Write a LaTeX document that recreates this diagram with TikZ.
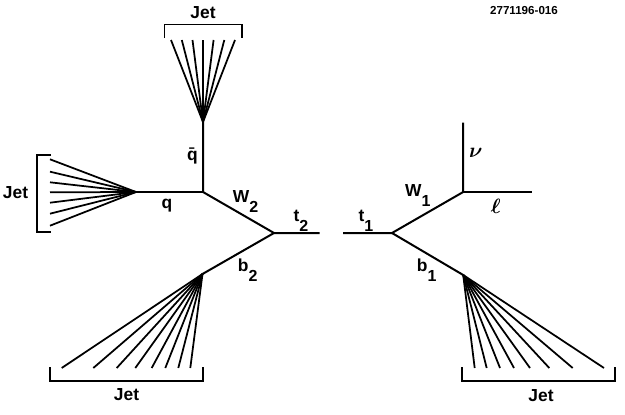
\documentclass[tikz,border=0pt]{standalone}
\usepackage{fontspec}
\setmainfont{Liberation Sans}[BoldFont={Liberation Sans Bold}]
\newcommand{\partlabel}[2]{#1\raisebox{-10pt}{\fontsize{16}{16}\selectfont #2}}
\tikzset{
  particle/.style={line width=2pt},
  spray/.style={line width=1.75pt},
  bracket/.style={line width=1.6pt},
  lab/.style={inner sep=0pt,font=\fontsize{17.4}{20}\selectfont\bfseries},
  baselab/.style={lab,anchor=base west},
  symb/.style={inner sep=0pt,font=\fontsize{20}{22}\selectfont\boldmath},
}
\begin{document}
\begin{tikzpicture}[x=1pt,y=-1pt]
\useasboundingbox (0,0) rectangle (625,415);

% Vertices of the decay chain
\coordinate (topL) at (274,233);
\coordinate (wL) at (203,192);
\coordinate (qbarApex) at (203,122);
\coordinate (qApex) at (136,192);
\coordinate (bL) at (202.5,274);
\coordinate (tLend) at (319.5,233);
\coordinate (tRend) at (343,233);
\coordinate (topR) at (392,233);
\coordinate (wR) at (463.2,192);
\coordinate (nuEnd) at (463.2,122.5);
\coordinate (lepEnd) at (531.5,192);
\coordinate (bR) at (463.2,275);

\draw[particle] (tLend) -- (topL) -- (wL) -- (qbarApex);
\draw[particle] (wL) -- (qApex);
\draw[particle] (topL) -- (bL);
\draw[particle] (tRend) -- (topR) -- (wR) -- (nuEnd);
\draw[particle] (wR) -- (lepEnd);
\draw[particle] (topR) -- (bR);

% Particle sprays
\foreach \x in {171,181.8,192.5,203,213.6,224.3,235}{
  \coordinate (e) at (\x,40);
  \draw[spray] (qbarApex) -- (e);
}
\foreach \y in {159.3,171.7,182.3,192.3,202.7,213.7,225.7}{
  \coordinate (e) at (50,\y);
  \draw[spray] (qApex) -- (e);
}
\foreach \x in {61.7,93.3,116.7,135.3,151.7,165.3,178.3,190.3}{
  \coordinate (e) at (\x,368);
  \draw[spray] (bL) -- (e);
}
\foreach \x in {474.7,486.7,500,514,530,549.3,572.7,604}{
  \coordinate (e) at (\x,368);
  \draw[spray] (bR) -- (e);
}

% Jet brackets
\draw[bracket] (164.4,38) -- (164.4,24.5) -- (242,24.5) -- (242,38);
\draw[bracket] (51,155) -- (37,155) -- (37,232) -- (51,232);
\draw[bracket] (50,367) -- (50,381) -- (202.7,381) -- (202.7,367);
\draw[bracket] (462,367) -- (462,381) -- (615,381) -- (615,367);

% Labels
\node[lab] (jetTop) at (203,13) {Jet};
\node[lab] (jetLeft) at (15.5,192.5) {Jet};
\node[lab] (jetBL) at (126.5,394.5) {Jet};
\node[lab] (jetBR) at (541,395.5) {Jet};
\node[lab,font=\fontsize{11.6}{14}\selectfont\bfseries] (plate) at (524,11) {2771196-016};

\node[baselab] (qbar) at (187,160) {\=q};
\node[baselab] (q) at (161.5,208.3) {q};
\node[baselab] (W2) at (232.7,202.3) {\partlabel{W}{2}};
\node[baselab] (t2) at (293.3,221.7) {\partlabel{t}{2}};
\node[baselab] (b2) at (237.7,271.7) {\partlabel{b}{2}};
\node[baselab] (t1) at (358.3,221.7) {\partlabel{t}{1}};
\node[baselab] (W1) at (405,196.7) {\partlabel{W}{1}};
\node[baselab] (b1) at (416.7,271.7) {\partlabel{b}{1}};
\node[symb] (nu) at (475.7,153) {$\nu$};
\node[symb] (lep) at (495.7,206) {$\ell$};
\end{tikzpicture}
\end{document}
